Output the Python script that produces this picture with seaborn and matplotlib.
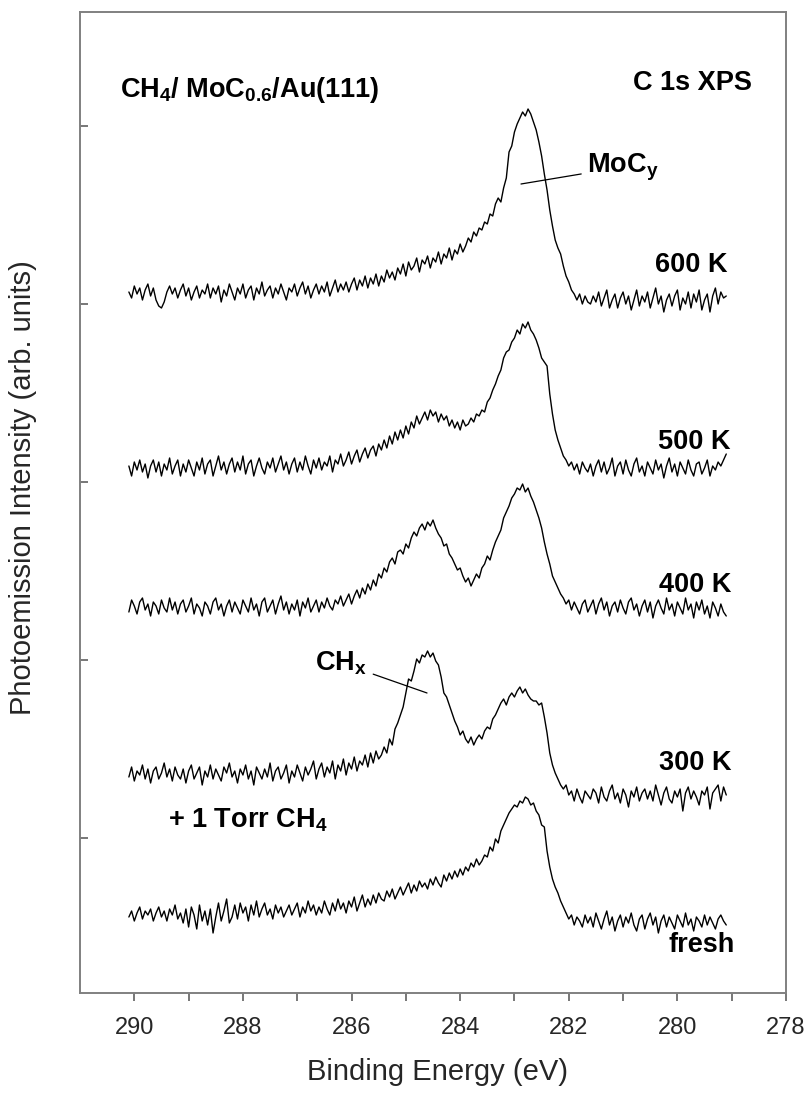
import numpy as np
import pandas as pd
import matplotlib
matplotlib.use("Agg")
import matplotlib.pyplot as plt
import seaborn as sns

# binding energy grid, 290.10 -> 279.10 eV in 0.05 eV steps (221 channels)
energy = np.round(np.linspace(290.10, 279.10, 221), 2)

# C 1s intensities (arb. units, relative to each trace's
# right-hand baseline); each row is 0.5 eV, starting at 290.10 eV
i_600 = [10, 4, 16, 8, 14, 2, 12, 18, 6, 14,
         2, -4, -6, 0, 10, 16, 8, 14, 4, 12,
         18, 6, 14, 2, 10, 16, 4, 12, 8, 18,
         4, 14, 8, 16, 0, 12, 6, 18, 10, 2,
         14, 8, 18, 4, 12, 16, 2, 14, 8, 20,
         6, 12, 16, 4, 14, 8, 18, 10, 2, 14,
         10, 18, 6, 14, 20, 8, 16, 4, 12, 18,
         8, 16, 10, 20, 6, 14, 22, 10, 18, 12,
         20, 10, 18, 24, 12, 22, 16, 26, 14, 24,
         18, 28, 16, 26, 20, 32, 24, 30, 22, 34,
         28, 38, 26, 40, 32, 36, 44, 30, 42, 38,
         46, 34, 44, 40, 50, 38, 48, 44, 54, 42,
         52, 48, 58, 50, 56, 64, 60, 70, 66, 74,
         72, 80, 78, 88, 86, 98, 104, 100, 114, 124,
         150, 156, 170, 178, 184, 190, 186, 193, 188, 180,
         172, 160, 146, 128, 112, 92, 76, 62, 54, 48,
         36, 26, 20, 12, 8, 2, 8, -2, 6, 0,
         -2, 6, 0, 10, -4, 4, 12, -6, 2, 8,
         -6, 4, 10, -2, 6, -8, 2, 12, -4, 6,
         0, 10, -6, 4, 14, -2, 6, -10, 2, 8,
         -4, 6, 12, -8, 4, -2, 10, -6, 8, 0,
         12, -8, 2, 8, -10, 6, 14, -2, 10, 4,
         6]
i_500 = [4, -6, 8, 0, 10, -2, 6, -8, 4, 10,
         -2, 8, -6, 6, 0, 12, -4, 4, 10, -6,
         6, -2, 10, 2, -6, 8, 0, 12, -4, 6,
         10, -6, 4, 14, 0, 8, -4, 6, 12, -2,
         8, 0, 14, -4, 6, 10, -6, 4, 12, 2,
         -4, 8, 2, 12, -2, 6, 14, 0, 8, -4,
         6, 12, -2, 8, 0, 14, 4, -4, 10, 2,
         12, 0, 8, 4, 14, -2, 10, 6, 16, 4,
         10, 18, 6, 14, 20, 8, 16, 22, 12, 20,
         24, 14, 26, 20, 30, 22, 34, 26, 38, 30,
         40, 32, 44, 36, 48, 42, 54, 46, 52, 58,
         50, 60, 54, 58, 48, 56, 50, 54, 44, 50,
         42, 48, 40, 50, 44, 46, 52, 48, 56, 54,
         60, 58, 68, 72, 80, 86, 94, 100, 112, 118,
         120, 128, 132, 140, 136, 146, 142, 148, 140, 136,
         130, 122, 112, 108, 104, 76, 56, 40, 30, 22,
         14, 10, 4, 8, 0, 6, -4, 8, 2, -2,
         6, -6, 4, 10, -2, 8, -4, 2, 12, -6,
         4, 8, -4, 10, 0, -6, 6, 12, -2, 4,
         -6, 8, 2, -4, 10, 0, 6, -8, 4, 12,
         -2, 6, -6, 8, 2, -4, 10, 0, -6, 6,
         8, -4, 2, 10, -6, 4, 0, 8, 4, 10,
         16]
i_400 = [-4, 8, 2, -6, 6, 10, -2, 4, -8, 6,
         2, -6, 8, 0, -4, 10, -2, 6, -6, 4,
         8, -4, 2, 10, -6, 4, 0, -8, 6, 2,
         -6, 6, 10, -2, 4, -8, 2, 8, -4, 6,
         0, -6, 8, 2, -4, 10, -2, 4, -8, 6,
         10, -4, 2, 8, -6, 4, 12, -2, 6, -6,
         4, -2, 8, -8, 6, 0, 10, -4, 2, 8,
         -4, 6, 0, 10, 2, -2, 8, 4, 12, 2,
         8, 14, 4, 12, 18, 10, 20, 14, 24, 18,
         28, 22, 34, 30, 40, 36, 46, 50, 44, 56,
         58, 54, 64, 60, 70, 76, 72, 80, 84, 78,
         86, 82, 88, 80, 74, 70, 62, 64, 54, 50,
         44, 38, 40, 32, 26, 30, 22, 28, 34, 30,
         40, 44, 52, 48, 58, 66, 72, 78, 90, 96,
         102, 110, 114, 120, 118, 124, 116, 120, 112, 106,
         98, 90, 80, 66, 54, 44, 32, 26, 20, 14,
         10, 4, 8, -2, 6, 0, -6, 4, 8, -4,
         2, 8, -6, 4, 10, -2, 6, -8, 2, 6,
         -4, 8, 0, -6, 6, 10, -2, 4, -8, 2,
         8, -4, 6, -10, 2, 8, 0, -6, 10, -2,
         4, -8, 6, 0, -6, 10, -2, 4, -10, 6,
         -2, 8, -6, 2, -10, 6, 0, -8, 4, -4,
         -8]
i_300 = [20, 30, 16, 26, 22, 32, 18, 28, 14, 26,
         30, 18, 24, 34, 20, 28, 16, 30, 22, 18,
         28, 14, 26, 32, 18, 24, 30, 12, 26, 20,
         32, 18, 28, 22, 16, 30, 24, 34, 20, 26,
         14, 28, 22, 32, 18, 26, 12, 30, 24, 18,
         28, 20, 34, 16, 26, 30, 18, 24, 32, 14,
         26, 20, 32, 24, 16, 30, 22, 28, 36, 18,
         28, 34, 20, 30, 24, 36, 18, 32, 26, 38,
         22, 34, 28, 40, 26, 36, 32, 42, 30, 44,
         34, 46, 38, 42, 50, 44, 58, 52, 68, 74,
         82, 90, 104, 118, 116, 126, 138, 134, 142, 140,
         146, 140, 144, 136, 132, 120, 104, 100, 92, 84,
         76, 70, 62, 66, 58, 54, 60, 52, 58, 62,
         58, 66, 70, 68, 78, 82, 88, 94, 98, 92,
         100, 104, 100, 106, 110, 104, 108, 102, 98, 96,
         96, 92, 94, 80, 64, 44, 32, 24, 18, 12,
         8, 12, 2, 6, -4, 8, 0, -6, 6, 2,
         -2, 8, 4, -6, 10, 0, -4, 6, 12, -2,
         4, -6, 8, 2, -10, 6, 0, 10, -4, 4,
         8, -2, 6, -4, 12, 2, -8, 4, 10, -2,
         -6, 6, 0, 8, -14, 4, 10, -2, 6, 0,
         -8, 6, 2, 10, -12, 4, 8, 12, -4, 10,
         2]
i_fresh = [6, 12, 2, 10, 16, 4, 12, 8, 14, 2,
           10, 16, 6, 12, 2, 14, 8, 18, 4, 10,
           0, 14, -4, 16, 8, -6, 18, 2, 12, -2,
           14, -10, 6, 20, 2, 12, 24, 0, 6, 18,
           4, 20, 10, 16, 2, 18, 8, 22, 6, 14,
           20, 8, 14, 4, 18, 10, 16, 6, 12, 18,
           8, 14, 20, 6, 16, 10, 22, 12, 18, 8,
           16, 10, 22, 14, 8, 20, 12, 24, 14, 20,
           10, 22, 16, 26, 12, 20, 28, 16, 24, 18,
           28, 20, 30, 24, 22, 32, 26, 34, 24, 30,
           36, 28, 34, 40, 30, 38, 32, 42, 36, 40,
           34, 44, 38, 46, 40, 36, 48, 42, 50, 44,
           52, 46, 54, 48, 56, 52, 60, 56, 64, 58,
           62, 68, 66, 76, 72, 84, 80, 92, 98, 104,
           110, 114, 118, 116, 122, 120, 126, 124, 118, 120,
           112, 108, 98, 96, 72, 56, 44, 36, 30, 22,
           16, 10, 4, 8, -2, 6, 2, -4, 8, 0,
           6, -4, 10, 2, -6, 4, 12, -2, 6, -8,
           2, 8, -4, 6, 0, 10, -2, -8, 4, 8,
           -6, 4, 10, -2, 6, -10, 2, 8, -4, 6,
           0, -6, 8, 2, -4, 10, -2, 4, -8, 6,
           2, -4, 8, -2, 6, 0, -6, 4, 8, 2,
           -2]

labels = ["600 K", "500 K", "400 K", "300 K", "fresh"]
spectra = [i_600, i_500, i_400, i_300, i_fresh]
offsets = [691, 523, 385, 196, 70]   # vertical stacking of the traces

rows = []
for lab, sp, off in zip(labels, spectra, offsets):
    for e, v in zip(energy, sp):
        rows.append({"energy": e, "signal": v + off, "sample": lab})
df = pd.DataFrame(rows)

sns.set_style("white")
plt.rcParams["font.family"] = ["Liberation Sans", "DejaVu Sans"]
plt.rcParams["mathtext.fontset"] = "custom"
plt.rcParams["mathtext.rm"] = "Liberation Sans"
plt.rcParams["mathtext.bf"] = "Liberation Sans:bold"
plt.rcParams["mathtext.default"] = "bf"

fig = plt.figure(figsize=(8.08, 10.93), dpi=100)
ax = fig.add_axes([80 / 808, 1 - 993 / 1093, 706 / 808, 981 / 1093])

sns.lineplot(data=df, x="energy", y="signal", units="sample", estimator=None,
             color="black", lw=1.0, sort=False, ax=ax)

ax.set_xlim(291, 278)
ax.set_ylim(0, 981)
ax.set_xticks([290, 288, 286, 284, 282, 280, 278])
ax.set_xticks([289, 287, 285, 283, 281, 279], minor=True)
ax.set_yticks([155, 333, 511, 689, 867])
ax.set_yticklabels([])
for s in ax.spines.values():
    s.set_color("#808080")
    s.set_linewidth(1.4)
ax.tick_params(axis="x", which="both", direction="out", length=6, width=1.2,
               color="#606060", labelsize=17, pad=11, bottom=True)
ax.tick_params(axis="y", direction="in", length=6, width=1.2, color="#606060", left=True)

ax.set_xlabel("Binding Energy (eV)", fontsize=21)
ax.xaxis.set_label_coords(0.506, -0.066)
ax.set_ylabel("Photoemission Intensity (arb. units)", fontsize=21)
ax.yaxis.set_label_coords(-0.061, 0.515)

bold = dict(fontsize=19.5, fontweight="bold", color="black")
ax.text(290.26, 903, r"CH$_4$/ MoC$_{0.6}$/Au(111)", ha="left", va="center", **bold)
ax.text(278.62, 910, "C 1s XPS", ha="right", va="center", **bold)
ax.text(279.07, 728, "600 K", ha="right", va="center", **bold)
ax.text(279.03, 551, "500 K", ha="right", va="center", **bold)
ax.text(279.0, 408, "400 K", ha="right", va="center", **bold)
ax.text(279.0, 230, "300 K", ha="right", va="center", **bold)
ax.text(278.94, 48, "fresh", ha="right", va="center", **bold)
ax.text(289.38, 173, r"+ 1 Torr CH$_4$", ha="left", va="center", **bold)

ax.annotate(r"MoC$_y$", xy=(282.88, 809), xytext=(281.66, 826), ha="left", va="center",
            arrowprops=dict(arrowstyle="-", color="black", lw=0.9, shrinkA=2, shrinkB=0), **bold)
ax.annotate(r"CH$_x$", xy=(284.61, 300), xytext=(285.71, 330), ha="right", va="center",
            arrowprops=dict(arrowstyle="-", color="black", lw=0.9, shrinkA=2, shrinkB=0), **bold)

fig.savefig("out.png", dpi=100)
